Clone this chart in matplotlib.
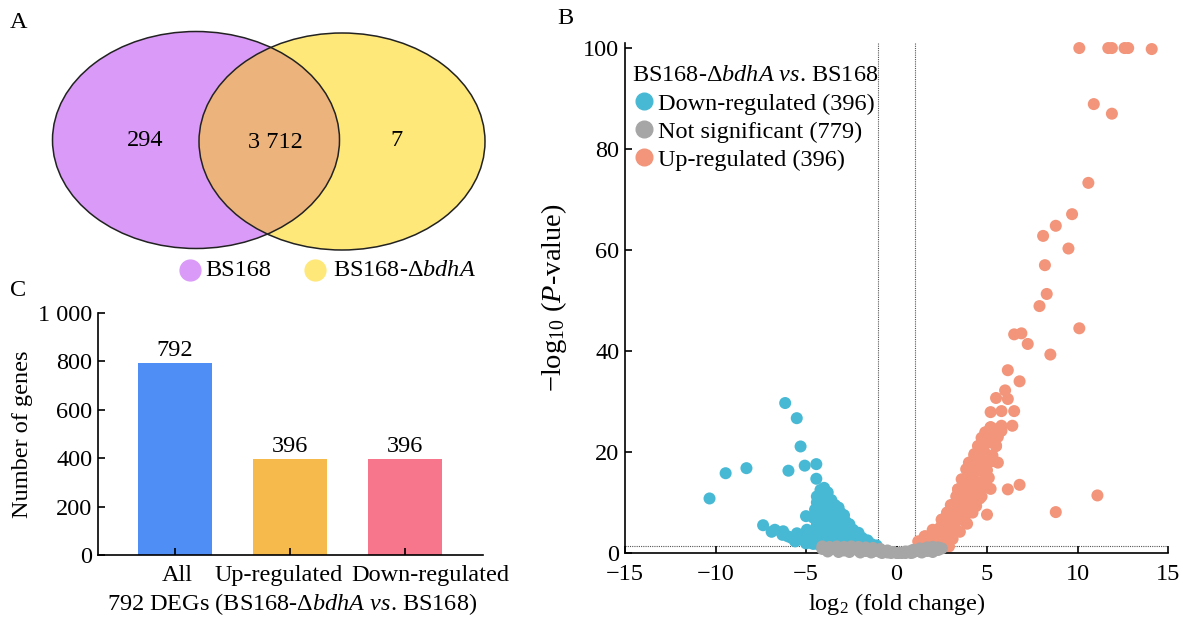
import matplotlib
matplotlib.use("Agg")
import matplotlib.pyplot as plt
from matplotlib.patches import Ellipse
from matplotlib.lines import Line2D

plt.rcParams['font.family'] = ['Liberation Serif', 'DejaVu Serif']
plt.rcParams['mathtext.fontset'] = 'custom'
plt.rcParams['mathtext.rm'] = 'Liberation Serif'
plt.rcParams['mathtext.it'] = 'Liberation Serif:italic'
plt.rcParams['mathtext.bf'] = 'Liberation Serif:bold'

# ---------------- data ----------------
venn_sets = ["BS168", "BS168-Δ$\\it{bdhA}$"]
venn_only_a = 294
venn_both = "3 712"
venn_only_b = 7

bar_categories = ["All", "Up-regulated", "Down-regulated"]
bar_values = [792, 396, 396]

down_x = [-10.33, -9.44, -8.29, -6.15, -5.51, -5.30, -5.97, -5.07, -4.43, -4.43,
          -7.37, -6.72, -6.26, -5.00, -4.95, -4.30,
          -4.2, -4.0, -3.8, -4.4, -4.1, -3.8, -3.6, -4.4, -4.1, -3.7, -3.4, -3.2,
          -4.5, -4.2, -3.9, -3.5, -3.1, -2.9, -4.6, -4.3, -3.9, -3.5, -3.1, -2.8, -2.6,
          -4.4, -4.0, -3.6, -3.2, -2.8, -2.4, -2.1,
          -5.5, -5.0, -4.6, -4.2, -3.8, -3.4, -3.0, -2.6, -2.2, -1.9, -1.6,
          -6.3, -5.8, -5.3, -4.8, -4.4, -4.0, -3.6, -3.2, -2.8, -2.4, -2.0, -1.7, -1.4, -1.1,
          -5.0, -4.6, -3.4, -2.6, -1.8, -6.9, -6.0, -5.6, -4.7, -4.3, -1.3]
down_y = [10.8, 15.8, 16.8, 29.7, 26.7, 21.1, 16.3, 17.3, 17.6, 14.7,
          5.5, 4.6, 4.3, 7.3, 4.6, 4.6,
          12.5, 12.9, 12.0, 11.2, 11.5, 11.0, 10.5, 10.0, 10.2, 9.8, 9.5, 9.0,
          8.6, 8.4, 8.7, 8.2, 8.0, 7.5, 7.0, 7.2, 7.0, 6.8, 6.5, 6.2, 5.7,
          5.6, 5.5, 5.4, 5.3, 5.0, 4.6, 4.0,
          3.9, 3.6, 4.0, 4.1, 4.0, 3.9, 3.8, 3.6, 3.3, 3.0, 2.5,
          3.6, 3.0, 2.7, 2.6, 2.6, 2.5, 2.6, 2.6, 2.5, 2.4, 2.2, 2.0, 1.8, 1.5,
          1.9, 1.8, 1.7, 1.7, 1.5, 4.2, 3.3, 2.3, 2.0, 1.7, 1.4]

ns_x = [-4.1, -4.1, -3.7, -3.7, -3.3, -3.3, -2.9, -2.9, -2.5, -2.5, -2.1, -2.1,
        -1.7, -1.7, -1.3, -1.3, -0.9, -0.9, -0.5, -0.5, -0.2, 0.0, 0.2, 0.5, 0.5,
        0.9, 0.9, 1.3, 1.3, 1.7, 1.7, 2.0, 2.0, 2.3, 2.3, 2.5, -3.9, -3.5, -3.1,
        -2.7, -2.3, -1.9, -1.5, -1.1, -0.7, 0.7, 1.1, 1.5, 1.9, 2.2,
        -3.8, -3.2, -2.6, -2.0, -1.4, -0.8, 0.3, 0.8, 1.4, 2.0, -0.3, 0.1]
ns_y = [1.3, 0.8, 1.2, 0.6, 1.3, 0.7, 1.2, 0.5, 1.3, 0.6, 1.2, 0.5,
        1.1, 0.4, 1.0, 0.3, 0.8, 0.2, 0.5, 0.1, 0.2, 0.0, 0.1, 0.3, 0.0,
        0.6, 0.1, 0.9, 0.3, 1.1, 0.4, 1.2, 0.5, 1.1, 0.6, 0.9, 1.0, 0.9, 0.9,
        0.9, 0.8, 0.7, 0.6, 0.5, 0.4, 0.3, 0.5, 0.7, 0.8, 0.9,
        0.3, 0.2, 0.2, 0.1, 0.1, 0.0, 0.0, 0.0, 0.1, 0.2, 0.0, 0.0]

up_x = [10.1, 11.7, 11.9, 12.6, 12.8, 14.1, 10.9, 11.9, 10.6, 9.7, 8.8, 8.1, 9.5,
        8.2, 8.3, 7.9, 10.1, 6.5, 6.9, 7.25, 8.5, 6.15, 6.8, 6.0, 5.5, 6.15, 5.2,
        5.8, 6.5, 6.4, 5.8, 5.2, 4.9, 5.5, 5.1, 4.5, 4.0, 4.3, 5.6, 5.1, 3.85, 3.6,
        3.4, 4.8, 5.2, 6.15, 6.8, 4.1, 11.1, 4.7, 5.0, 8.8, 3.7, 2.8, 2.5, 2.0, 1.55,
        1.2, 2.9,
        1.6, 2.0, 2.4, 2.8, 1.6, 2.0, 2.4, 2.8, 3.1, 2.4, 2.8, 3.2, 3.5,
        2.5, 2.9, 3.3, 3.7, 3.9, 2.8, 3.1, 3.5, 3.9, 4.2, 3.0, 3.3, 3.7, 4.1, 4.4,
        3.3, 3.6, 4.0, 4.3, 4.6, 3.4, 3.8, 4.2, 4.5, 3.9, 4.3, 4.6, 4.9,
        4.1, 4.4, 4.8, 5.0, 4.3, 4.6, 4.9, 5.3, 4.3, 4.6, 5.0, 5.3,
        4.8, 5.5, 4.7, 5.0, 5.3, 5.6, 5.2, 5.5, 5.8]
up_y = [100, 100, 100, 100, 100, 99.8, 88.9, 87.0, 73.3, 67.1, 64.8, 62.8, 60.3,
        57.0, 51.3, 48.9, 44.5, 43.3, 43.5, 41.4, 39.3, 36.2, 34.0, 32.2, 30.7, 30.5, 27.9,
        28.1, 28.1, 25.2, 25.2, 24.9, 23.9, 21.2, 21.9, 21.2, 17.9, 19.3, 17.9, 14.9, 16.6, 14.6,
        12.6, 12.9, 12.7, 12.6, 13.5, 11.3, 11.4, 11.2, 7.6, 8.1, 6.5, 8.0, 6.6, 4.6, 3.3,
        2.3, 1.3,
        2.0, 1.8, 1.7, 1.5, 3.3, 3.4, 3.2, 3.0, 2.8, 5.0, 4.8, 4.6, 4.2,
        6.6, 6.5, 6.3, 6.5, 5.8, 8.0, 8.2, 8.0, 7.8, 8.0, 9.5, 9.8, 9.5, 9.6, 9.3,
        11.2, 11.0, 11.4, 11.0, 10.8, 12.6, 12.8, 12.4, 12.6, 14.2, 14.4, 14.0, 14.6,
        16.0, 16.3, 16.0, 16.4, 18.2, 18.0, 18.4, 18.2, 19.6, 19.8, 19.5, 19.3,
        21.0, 21.2, 22.8, 23.2, 23.5, 23.0, 24.9, 24.5, 24.2]

legend_title = "BS168-Δ$\\it{bdhA}$ $\\it{vs}$. BS168"
legend_labels = ["Down-regulated (396)", "Not significant (779)", "Up-regulated (396)"]

# ---------------- style ----------------
W, H = 1185, 618
fig = plt.figure(figsize=(W / 100, H / 100), dpi=100)
FS = 17.5

def px(x, y):
    return x / W, 1 - y / H

c_purple, c_overlap, c_yellow = "#DA9BF8", "#EDB37C", "#FEE87A"
bar_colors = ["#4F8EF5", "#F5B94C", "#F7768C"]
c_down, c_ns, c_up = "#48B9D4", "#A6A6A6", "#F2957A"

# ---------------- Panel A: Venn ----------------
axv = fig.add_axes([0, 1 - 290 / H, 520 / W, 290 / H])
axv.set_xlim(0, 520)
axv.set_ylim(290, 0)
axv.axis("off")
e1 = Ellipse((196, 140), 287, 217, facecolor=c_purple, edgecolor="none")
e2 = Ellipse((342, 141.5), 286, 217, facecolor=c_yellow, edgecolor="none")
axv.add_patch(e1)
axv.add_patch(e2)
e3 = Ellipse((342, 141.5), 286, 217, facecolor=c_overlap, edgecolor="none")
axv.add_patch(e3)
e3.set_clip_path(e1)
for c in [(196, 140, 287), (342, 141.5, 286)]:
    axv.add_patch(Ellipse((c[0], c[1]), c[2], 217, facecolor="none", edgecolor="#222222", lw=1.1))
axv.text(145, 141, str(venn_only_a), ha="center", va="center", fontsize=FS)
axv.text(275, 143, venn_both, ha="center", va="center", fontsize=FS)
axv.text(397, 141, str(venn_only_b), ha="center", va="center", fontsize=FS)
axv.plot([190], [270], "o", ms=15, color=c_purple, clip_on=False)
axv.plot([315], [270], "o", ms=15, color=c_yellow, clip_on=False)
axv.text(205, 271, venn_sets[0], ha="left", va="center", fontsize=FS)
axv.text(333, 271, venn_sets[1], ha="left", va="center", fontsize=FS)

# ---------------- Panel C: bars ----------------
axb = fig.add_axes([98 / W, 1 - 555 / H, (483 - 98) / W, (555 - 313) / H])
xpos = list(range(len(bar_categories)))
axb.bar(xpos, bar_values, width=0.64, color=bar_colors)
for xi, v in zip(xpos, bar_values):
    axb.text(xi, v + 8, str(v), ha="center", va="bottom", fontsize=FS)
axb.set_xlim(-0.67, 2.68)
axb.set_ylim(0, 1000)
axb.set_yticks([0, 200, 400, 600, 800, 1000])
axb.set_yticklabels(["0", "200", "400", "600", "800", "1 000"])
axb.set_xticks(xpos)
axb.set_xticklabels([""] * len(xpos))
# category labels nudged apart as in the reference so they do not collide
label_shift = [0.02, -0.10, 0.22]
for xi, lab, dx in zip(xpos, bar_categories, label_shift):
    axb.text(xi + dx, -40, lab, ha="center", va="top", fontsize=FS, clip_on=False)
for s in ["top", "right"]:
    axb.spines[s].set_visible(False)
for s in ["left", "bottom"]:
    axb.spines[s].set_linewidth(1.2)
axb.tick_params(direction="in", labelsize=FS, length=5, width=1.2, pad=4)
axb.set_ylabel("Number of genes", fontsize=17.5, labelpad=4)
axb.set_xlabel("792 DEGs (BS168-Δ$\\it{bdhA}$ $\\it{vs}$. BS168)", fontsize=FS)
axb.xaxis.set_label_coords(0.504, -0.15)

# ---------------- Panel B: volcano ----------------
axs = fig.add_axes([625 / W, 1 - 553 / H, (1168 - 625) / W, (553 - 43) / H])
axs.axvline(-1, color="#555555", lw=0.8, ls=(0, (1, 1)), zorder=1)
axs.axvline(1, color="#555555", lw=0.8, ls=(0, (1, 1)), zorder=1)
axs.axhline(1.3, color="#555555", lw=0.8, ls=(0, (1, 1)), zorder=1)
ms = 75
axs.scatter(down_x, down_y, s=ms, color=c_down, edgecolors="none", zorder=2, clip_on=False)
axs.scatter(up_x, up_y, s=ms, color=c_up, edgecolors="none", zorder=2, clip_on=False)
axs.scatter(ns_x, ns_y, s=ms, color=c_ns, edgecolors="none", zorder=3, clip_on=False)
axs.set_xlim(-15, 15)
axs.set_ylim(0, 101)
axs.set_xticks([-15, -10, -5, 0, 5, 10, 15])
axs.set_xticklabels(["\u221215", "\u221210", "\u22125", "0", "5", "10", "15"])
axs.set_yticks([0, 20, 40, 60, 80, 100])
for s in ["top", "right"]:
    axs.spines[s].set_visible(False)
for s in ["left", "bottom"]:
    axs.spines[s].set_linewidth(1.2)
axs.tick_params(axis="y", direction="in", labelsize=FS, length=5, width=1.2, pad=4)
axs.tick_params(axis="x", direction="in", labelsize=FS, length=5, width=1.2, pad=8)
axs.set_xlabel("log$_2$ (fold change)", fontsize=FS, labelpad=4)
axs.set_ylabel("\u2212log$_{10}$ ($\\it{P}$-value)", fontsize=20.5, labelpad=10)
handles = [Line2D([], [], marker="o", ls="none", ms=12, color=c) for c in (c_down, c_ns, c_up)]
leg = axs.legend(handles, legend_labels, title=legend_title, loc="upper left",
                 bbox_to_anchor=(-0.005, 0.975), frameon=False, fontsize=17.5,
                 title_fontsize=17.5, handletextpad=0.05, borderaxespad=0.2,
                 labelspacing=0.25, handlelength=1.0, borderpad=0.2)
leg._legend_box.align = "left"

# ---------------- panel labels ----------------
fig.text(*px(10, 22), "A", fontsize=FS, va="center", ha="left")
fig.text(*px(557, 18), "B", fontsize=FS, va="center", ha="left")
fig.text(*px(10, 290), "C", fontsize=FS, va="center", ha="left")

fig.savefig("out.png", dpi=100)
